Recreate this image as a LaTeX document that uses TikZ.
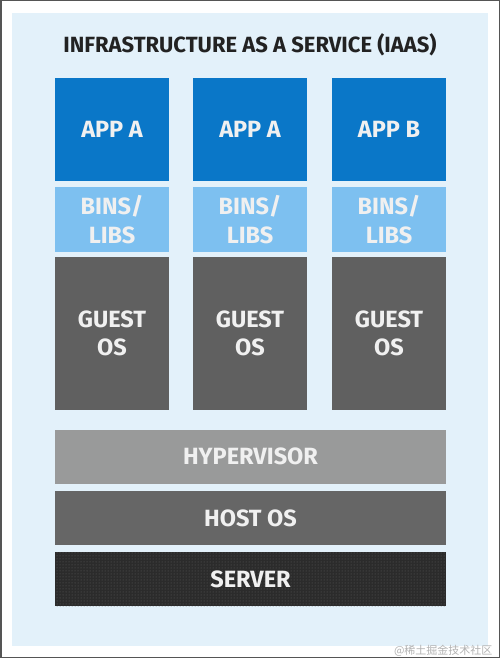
\documentclass[tikz,border=0pt]{standalone}
\usepackage{fontspec}
\setmainfont{Fira Sans}
\newfontfamily\cjkfont{Noto Sans CJK SC}
\usetikzlibrary{patterns}

\definecolor{framegray}{HTML}{555555}
\definecolor{panelblue}{HTML}{E3F1FA}
\definecolor{appblue}{HTML}{0A77C8}
\definecolor{libblue}{HTML}{7DC0F0}
\definecolor{guestgray}{HTML}{606060}
\definecolor{hypergray}{HTML}{999A9A}
\definecolor{hostgray}{HTML}{666666}
\definecolor{servergray}{HTML}{2B2B2B}
\definecolor{titleink}{HTML}{222222}

\begin{document}
\begin{tikzpicture}[x=1pt,y=-1pt,
   block/.style={inner sep=0pt, outer sep=0pt, text=white!94!black, align=center,
                 font=\bfseries\fontsize{23.5}{28.5}\selectfont},
   colbox/.style={block, minimum width=114pt},
   layer/.style={block, minimum width=391pt, minimum height=54pt}]

   \useasboundingbox (0,0) rectangle (500,658);

   % frame and panel
   \draw[framegray, line width=1.5pt] (0.75,0.75) rectangle (499.25,657.25);
   \fill[panelblue] (12,13) rectangle (488,646);

   \node[font=\bfseries\fontsize{22}{24}\selectfont, text=titleink] (title) at (250,45)
      {INFRASTRUCTURE AS A SERVICE (IAAS)};

   % the three stacks
   \foreach \i/\x/\app in {1/112/APP A, 2/250/APP A, 3/389/APP B} {
      \node[colbox, fill=appblue, minimum height=103pt] (app\i) at (\x,129.5) {\app};
      \node[colbox, fill=libblue, minimum height=65pt] (libs\i) at (\x,219.5) {BINS/\\LIBS};
      \node[colbox, fill=guestgray, minimum height=153pt] (guest\i) at (\x,333.5) {GUEST\\OS};
   }

   % shared layers
   \node[layer, fill=hypergray] (hyper) at (250.5,456.5) {HYPERVISOR};
   \node[layer, fill=hostgray] (host) at (250.5,518) {HOST OS};
   \node[layer, fill=servergray,
         postaction={pattern=dots, pattern color=black!62}] (server) at (250.5,579) {SERVER};

   \node[anchor=base east, text=black!30, font=\cjkfont\fontsize{11}{13}\selectfont]
      (mark) at (496,654) {@稀土掘金技术社区};

\end{tikzpicture}
\end{document}
